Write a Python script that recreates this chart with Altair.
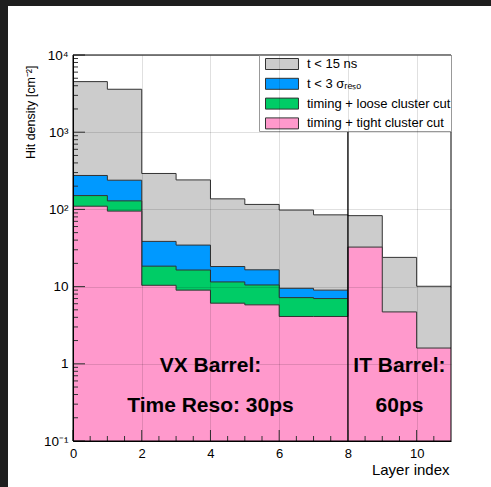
import altair as alt
import pandas as pd

# ---------------- data ----------------
layer_bins = list(range(11))
gray_vals = [4520, 3600, 292, 241, 137, 116, 98, 85, 83, 23.9, 10.1]
blue_vals = [275, 239, 38.5, 34.5, 18.2, 16.5, 9.5, 9.0]
green_vals = [151, 129, 18.4, 16.4, 11.5, 10.5, 7.2, 7.0]
pink_vals = [110, 95, 10.4, 9.0, 6.1, 5.8, 4.1, 4.1, 32.5, 4.7, 1.6]

series_names = ["t < 15 ns", "t < 3   σᵣₑₛₒ", "timing + loose cluster cut", "timing + tight cluster cut"]
series_colors = ["#cccccc", "#0099ff", "#00cc66", "#ff99cc"]
series_vals = [gray_vals, blue_vals, green_vals, pink_vals]

separator_x = [8]
x_major_ticks = [0, 2, 4, 6, 8, 10]
x_minor_ticks = [0.5, 1, 1.5, 2.5, 3, 3.5, 4.5, 5, 5.5, 6.5, 7, 7.5, 8.5, 9, 9.5, 10.5]
y_major_ticks = [0.1, 1, 10, 100, 1000, 10000]
y_minor_ticks = [0.2, 0.3, 0.4, 0.5, 0.6, 0.7, 0.8, 0.9,
                 2, 3, 4, 5, 6, 7, 8, 9,
                 20, 30, 40, 50, 60, 70, 80, 90,
                 200, 300, 400, 500, 600, 700, 800, 900,
                 2000, 3000, 4000, 5000, 6000, 7000, 8000, 9000]
y_tick_labels = ["10⁻¹", "1", "10", "10²", "10³", "10⁴"]

ann_text = ["VX Barrel:", "Time Reso: 30ps", "IT Barrel:", "60ps"]
ann_x = [4, 4, 9.5, 9.5]
ann_y = [0.79, 0.24, 0.79, 0.24]

# ---------------- tables ----------------
rows = []
for name, vals in zip(series_names, series_vals):
    for i, v in enumerate(vals):
        rows.append({"series": name, "x": layer_bins[i], "v": v})
    rows.append({"series": name, "x": layer_bins[len(vals) - 1] + 1, "v": vals[-1]})
hist = pd.DataFrame(rows)

W, H = 378, 386
FONT = "Liberation Sans"

xscale = alt.Scale(domain=[0, 11], nice=False, zero=False)
yscale = alt.Scale(type="log", domain=[0.1, 10000], nice=False)

label_map = "{" + ",".join(f"'{v}':'{t}'" for v, t in zip(y_major_ticks, y_tick_labels)) + "}"

xaxis = alt.Axis(
    values=x_major_ticks, format="d", ticks=False, domain=True, domainColor="black",
    grid=True, gridColor="black", gridOpacity=0.12, labelFont=FONT, labelFontSize=13,
    labelColor="black", labelPadding=6, labelFlush=False, title="Layer index",
    titleFont=FONT, titleFontSize=15, titleFontWeight="normal", titleColor="black",
    titleX=W - 2, titleY=33, titleAlign="right", titleBaseline="alphabetic", zindex=1,
)
yaxis = alt.Axis(
    values=y_major_ticks, labelExpr=f"{label_map}[toString(datum.value)]", ticks=False,
    domain=True, domainColor="black", grid=True, gridColor="black", gridOpacity=0.12,
    labelFont=FONT, labelFontSize=13.5, labelColor="black", labelPadding=5, labelFlush=False,
    title="Hit density [cm⁻²]", titleFont=FONT, titleFontSize=12.5, titleFontWeight="normal",
    titleColor="black", titleX=-39, titleY=10, titleAngle=270, titleAlign="right",
    titleBaseline="alphabetic", zindex=1,
)

legend = alt.Legend(
    title=None, orient="top-right", offset=0, padding=0, fillColor="white",
    strokeColor="#999999", cornerRadius=0,
    symbolType="M-2,-0.667H2V0.667H-2Z", symbolSize=272, symbolStrokeColor="#333333",
    symbolStrokeWidth=1, symbolOpacity=1, symbolOffset=14,
    labelFont=FONT, labelFontSize=13, labelColor="black", labelOffset=16, labelLimit=0,
    rowPadding=2.8,
)
color_scale = alt.Scale(domain=series_names, range=series_colors)


def X(field="x"):
    return alt.X(f"{field}:Q", scale=xscale, axis=xaxis)


def Y(field="v"):
    return alt.Y(f"{field}:Q", scale=yscale, axis=yaxis)


layers = []
bg = alt.Chart(pd.DataFrame({"a": [0]})).mark_rect(color="white").encode(
    x=alt.value(-65), x2=alt.value(W + 40), y=alt.value(-49), y2=alt.value(H + 46)
)
layers.append(bg)

for k, name in enumerate(series_names):
    base = alt.Chart(hist).transform_filter(alt.datum.series == name)
    area = base.mark_area(interpolate="step-after", opacity=1).encode(
        x=X(), y=Y(), y2=alt.datum(0.1),
        color=alt.Color("series:N", scale=color_scale, legend=legend),
    )
    line = base.mark_line(interpolate="step-after", color="#333333", strokeWidth=1).encode(
        x=X(), y=Y(),
    )
    layers += [area, line]

sep = alt.Chart(pd.DataFrame({"x": separator_x})).mark_rule(color="black", strokeWidth=1.3).encode(
    x=X()
)
xt_major = alt.Chart(pd.DataFrame({"x": x_major_ticks})).mark_rule(color="#333333").encode(
    x=X(), y=alt.value(H), y2=alt.value(H - 11)
)
xt_minor = alt.Chart(pd.DataFrame({"x": x_minor_ticks})).mark_rule(color="#333333").encode(
    x=X(), y=alt.value(H), y2=alt.value(H - 5)
)
yt_major = alt.Chart(pd.DataFrame({"v": y_major_ticks})).mark_rule(color="#333333").encode(
    y=Y(), x=alt.value(0), x2=alt.value(12)
)
yt_minor = alt.Chart(pd.DataFrame({"v": y_minor_ticks})).mark_rule(color="#333333").encode(
    y=Y(), x=alt.value(0), x2=alt.value(5)
)
ann = alt.Chart(pd.DataFrame({"x": ann_x, "v": ann_y, "t": ann_text})).mark_text(
    font=FONT, fontSize=21, fontWeight="bold", color="black", align="center", baseline="alphabetic"
).encode(x=X(), y=Y(), text="t:N")
frame = alt.Chart(pd.DataFrame({"a": [0]})).mark_rect(fill=None, stroke="black", strokeWidth=1).encode(
    x=alt.value(0), x2=alt.value(W), y=alt.value(0), y2=alt.value(H)
)
layers += [sep, xt_major, xt_minor, yt_major, yt_minor, ann, frame]

chart = alt.layer(*layers).properties(
    width=W, height=H, background="#1e1e1e",
    padding={"left": 73, "top": 55, "right": 40, "bottom": 46},
    autosize=alt.AutoSizeParams(type="none"),
).configure_view(stroke=None)

chart.save("out.html", embed_options={"renderer": "svg", "actions": False})
